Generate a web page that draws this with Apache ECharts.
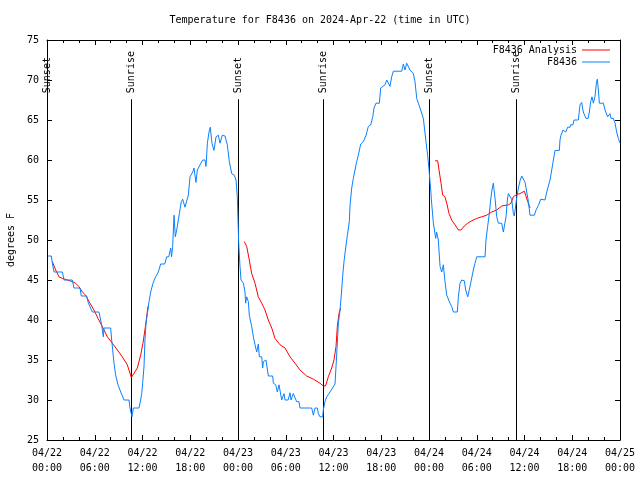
<!DOCTYPE html>
<html>
<head>
<meta charset="utf-8">
<script src="https://cdn.jsdelivr.net/npm/echarts@6/dist/echarts.min.js"></script>
<style>html,body{margin:0;padding:0;background:#fff;}#c{width:640px;height:480px;}</style>
</head>
<body>
<div id="c"></div>
<script>
// hours since 2024-04-22 00:00 UTC, temperature (deg F)
const observed = [
[0.13,48.0],[0.54,48.0],[0.67,47.1],[0.88,46.0],[1.93,46.0],[2.14,45.0],[3.18,45.0],[3.39,44.0],[4.15,44.0],[4.31,43.0],
[4.98,43.0],[5.2,42.1],[5.7,41.0],[6.53,41.0],[6.83,39.6],[7.08,37.9],[7.16,39.0],[8.0,39.0],[8.13,37.5],[8.42,34.6],
[8.63,33.1],[8.92,31.9],[9.26,31.0],[9.68,30.0],[10.3,30.0],[10.43,29.0],[10.68,27.9],[10.85,29.0],[11.56,29.0],[11.77,30.0],
[11.9,30.8],[12.02,32.1],[12.19,34.2],[12.31,37.5],[12.44,39.6],[12.61,40.8],[12.82,42.3],[13.03,43.5],[13.32,44.6],[13.65,45.4],
[13.99,46.0],[14.28,47.0],[14.79,47.0],[15.04,47.9],[15.3,47.9],[15.54,49.0],[15.65,47.9],[15.79,49.2],[15.96,53.1],[16.12,50.4],
[16.3,51.25],[16.63,53.3],[16.88,54.8],[17.05,55.1],[17.34,54.1],[17.55,54.1],[17.76,55.6],[17.97,57.9],[18.31,58.5],[18.47,59.0],
[18.72,57.2],[18.89,58.75],[19.23,59.4],[19.56,60.0],[19.85,60.0],[19.98,59.2],[20.15,62.1],[20.36,63.5],[20.52,64.1],[20.73,62.1],
[20.98,61.2],[21.24,62.9],[21.53,63.1],[21.74,62.1],[22.03,63.1],[22.37,63.0],[22.66,61.9],[22.91,59.8],[23.21,58.3],[23.54,58.1],
[23.75,57.5],[23.91,55.4],[24.0,52.5],[24.09,49.6],[24.25,46.7],[24.38,45.0],[24.68,44.6],[24.88,43.5],[24.96,42.1],[25.09,42.9],
[25.3,42.3],[25.42,40.6],[25.72,39.2],[25.93,37.9],[26.14,36.9],[26.35,36.0],[26.56,37.0],[26.68,35.4],[26.98,35.4],[27.1,34.0],
[27.19,34.8],[27.52,35.0],[27.81,33.0],[28.36,33.0],[28.44,32.1],[28.74,31.9],[28.94,31.0],[29.15,31.9],[29.28,31.7],[29.49,30.0],
[29.78,30.8],[29.91,30.0],[30.3,30.0],[30.54,30.9],[30.66,30.0],[30.95,30.8],[31.16,30.8],[31.37,29.8],[31.66,29.8],[31.79,29.0],
[33.26,29.0],[33.47,28.1],[33.68,29.0],[33.97,29.0],[34.1,28.3],[34.3,27.9],[34.64,27.9],[34.72,28.75],[34.93,29.8],[35.15,30.4],
[35.56,31.0],[36.19,32.0],[36.32,34.2],[36.48,37.1],[36.61,39.6],[36.82,41.25],[37.03,43.75],[37.16,45.6],[37.32,47.3],[37.53,49.0],
[37.74,50.6],[37.99,52.3],[38.08,54.4],[38.29,56.5],[38.49,57.7],[38.7,58.75],[38.91,59.8],[39.12,60.6],[39.42,62.0],[39.75,62.3],
[40.09,63.1],[40.38,64.2],[40.68,64.4],[40.93,65.4],[41.09,66.5],[41.34,67.1],[41.76,67.1],[41.93,69.0],[42.18,69.0],[42.47,69.4],
[42.69,70.0],[42.94,70.0],[43.1,69.2],[43.31,70.4],[43.52,71.1],[44.57,71.1],[44.78,72.0],[44.99,71.25],[45.2,72.1],[45.4,72.1],
[45.61,71.25],[46.03,70.8],[46.24,69.8],[46.46,67.7],[46.66,67.1],[46.87,66.5],[47.29,65.2],[47.5,65.1],[47.62,62.3],[47.83,60.6],
[48.0,58.8],[48.25,55.8],[48.3,55.0],[48.54,52.2],[48.84,50.2],[48.96,51.0],[49.17,50.0],[49.39,46.7],[49.6,46.0],[49.8,46.9],
[50.01,44.8],[50.23,43.1],[50.44,42.9],[50.64,42.1],[50.85,41.7],[51.06,41.0],[51.56,41.0],[51.69,42.9],[51.9,44.6],[52.11,45.0],
[52.44,44.9],[52.61,43.75],[52.87,42.9],[53.08,42.9],[53.24,44.6],[53.57,46.25],[53.78,47.1],[54.0,47.9],[55.04,47.9],[55.16,50.0],
[55.37,51.7],[55.58,53.3],[55.75,55.0],[55.91,56.25],[56.08,57.1],[56.3,55.2],[56.51,52.9],[56.71,52.1],[56.9,52.3],[57.13,52.1],
[57.34,51.0],[57.55,51.0],[57.68,52.9],[57.85,55.0],[57.97,55.8],[58.18,56.0],[58.39,55.1],[58.59,53.4],[58.72,53.0],[58.89,53.0],
[59.02,55.3],[59.23,56.5],[59.44,57.4],[59.65,58.0],[59.86,58.0],[60.07,57.2],[60.28,56.0],[60.49,54.8],[60.69,53.1],[61.24,53.1],
[61.45,53.75],[61.74,54.3],[62.04,55.1],[62.58,55.0],[62.79,56.0],[63.0,56.0],[63.21,57.5],[63.42,58.75],[63.63,60.0],[63.84,61.2],
[64.38,61.2],[64.46,62.5],[64.59,63.1],[64.84,63.75],[65.05,64.0],[65.18,63.5],[65.43,64.1],[65.72,64.1],[65.81,64.4],[66.09,64.4],
[66.22,65.0],[66.76,65.0],[66.98,66.9],[67.18,67.2],[67.39,66.0],[67.72,65.2],[68.0,65.2],[68.15,66.0],[68.32,67.3],[68.48,67.9],
[68.65,67.1],[68.86,67.9],[69.03,69.6],[69.15,70.1],[69.28,68.75],[69.41,67.1],[69.91,67.1],[70.12,66.25],[70.33,66.1],[70.45,65.4],
[70.62,65.4],[70.74,65.8],[70.87,65.2],[71.16,65.2],[71.38,64.6],[71.58,63.5],[71.79,62.7],[72.0,62.1]
];
const analysisNight1 = [
[0.67,47.3],[1.09,46.25],[1.5,45.4],[1.93,45.2],[2.55,45.0],[3.18,44.8],[3.6,44.6],[4.0,44.2],[4.44,43.5],[4.86,43.1],
[5.28,42.3],[5.9,41.25],[6.41,40.2],[6.95,39.2],[7.58,37.9],[8.21,37.1],[8.84,36.25],[9.46,35.4],[10.09,34.4],[10.6,32.8],
[10.85,32.8],[11.35,34.0],[11.77,35.6],[12.06,37.1],[12.4,39.4],[12.69,41.7]
];
const analysisNight2 = [
[24.79,49.8],[25.09,49.2],[25.42,47.5],[25.72,45.8],[26.14,44.6],[26.55,42.9],[26.98,42.1],[27.39,41.25],[27.81,40.0],[28.24,39.0],
[28.65,37.7],[29.28,36.9],[29.91,36.5],[30.54,35.4],[31.16,34.6],[31.79,33.75],[32.63,33.0],[33.47,32.6],[34.3,32.1],[34.72,31.75],
[35.0,31.75],[35.35,32.9],[35.77,34.0],[36.06,35.0],[36.32,36.7],[36.48,39.2],[36.69,40.8],[36.9,41.5]
];
const analysisNight3 = [
[48.76,59.9],[49.09,59.9],[49.26,58.75],[49.51,57.1],[49.72,55.6],[50.0,55.4],[50.23,54.6],[50.52,53.3],[50.85,52.5],[51.27,51.9],
[51.69,51.25],[52.02,51.25],[52.44,51.75],[52.87,52.1],[53.37,52.4],[54.0,52.7],[54.62,52.9],[55.25,53.1],[55.88,53.5],[56.51,53.75],
[57.14,54.25],[57.97,54.4],[58.31,54.6],[58.59,55.4],[59.02,55.7],[59.44,55.8],[59.98,56.1],[60.15,55.6],[60.4,54.8],[60.69,54.0]
];
const sunTimes = [0.04, 10.6, 24.04, 34.72, 48.04, 58.9];
const sunLabels = ['Sunset','Sunrise','Sunset','Sunrise','Sunset','Sunrise'];
const yTicks = {min:25, max:75, step:5};
const xTicks = {min:0, max:72, step:6};

const FONT = '"DejaVu Sans Mono", "Liberation Mono", monospace';
const analysis = analysisNight1.concat([[null,null]], analysisNight2, [[null,null]], analysisNight3);
const lineTopValue = 67.6;

function fmtX(v){
  const d = 22 + Math.floor(v/24);
  const h = v % 24;
  return '04/' + d + '\n' + (h<10?'0':'') + h + ':00';
}

const axisCommon = {
  axisLine:{show:true, onZero:false, lineStyle:{color:'#000', width:1}},
  axisTick:{show:true, inside:true, length:5, lineStyle:{color:'#000'}},
  splitLine:{show:false}
};

const chart = echarts.init(document.getElementById('c'), null, {renderer:'canvas'});
chart.setOption({
  animation:false,
  backgroundColor:'#fff',
  title:{text:'Temperature for F8436 on 2024-Apr-22 (time in UTC)', left:'center', top:10,
    textStyle:{fontFamily:FONT, fontSize:10, fontWeight:'normal', color:'#000'}},
  grid:{left:47, right:20, top:40, bottom:40, containLabel:false, outerBoundsMode:'none'},
  legend:[
    {data:['F8436 Analysis'], right:30, top:45, align:'right', orient:'vertical', itemWidth:28, itemHeight:1, itemGap:2, icon:'rect', padding:0,
      textStyle:{fontFamily:FONT, fontSize:10, color:'#000'}},
    {data:['F8436'], right:30, top:57, align:'right', orient:'vertical', itemWidth:28, itemHeight:1, itemGap:2, icon:'rect', padding:0,
      textStyle:{fontFamily:FONT, fontSize:10, color:'#000'}}
  ],
  xAxis:[
    Object.assign({type:'value', position:'bottom', min:xTicks.min, max:xTicks.max, interval:xTicks.step,
      minorTick:{show:true, splitNumber:3, length:3, lineStyle:{color:'#000'}},
      axisLabel:{formatter:fmtX, fontFamily:FONT, fontSize:10, color:'#000', lineHeight:15, margin:6}}, axisCommon),
    Object.assign({type:'value', position:'top', min:xTicks.min, max:xTicks.max, interval:xTicks.step,
      minorTick:{show:true, splitNumber:3, length:3, lineStyle:{color:'#000'}},
      axisLabel:{show:false}}, axisCommon)
  ],
  yAxis:[
    Object.assign({type:'value', position:'left', min:yTicks.min, max:yTicks.max, interval:yTicks.step,
      name:'degrees F', nameLocation:'middle', nameRotate:90, nameGap:30,
      nameTextStyle:{fontFamily:FONT, fontSize:10, color:'#000'},
      axisLabel:{fontFamily:FONT, fontSize:10, color:'#000', margin:8}}, axisCommon),
    Object.assign({type:'value', position:'right', min:yTicks.min, max:yTicks.max, interval:yTicks.step,
      axisLabel:{show:false}}, axisCommon)
  ],
  series:[
    {type:'custom', name:'sun', z:1, silent:true, clip:false,
      data: sunTimes.map(function(t){return [t];}),
      encode:{x:0},
      renderItem:function(params, api){
        const x = api.value(0);
        const p0 = api.coord([x, yTicks.min]);
        const p1 = api.coord([x, lineTopValue]);
        return {type:'group', children:[
          {type:'line', shape:{x1:Math.round(p0[0])+0.5, y1:p0[1], x2:Math.round(p1[0])+0.5, y2:p1[1]},
            style:{stroke:'#000', lineWidth:1}},
          {type:'text', x:Math.round(p1[0])+0.5, y:p1[1]-6, rotation:Math.PI/2,
            style:{text:sunLabels[params.dataIndex], fill:'#000', font:'10px ' + FONT, align:'left', verticalAlign:'middle'}}
        ]};
      }
    },
    {type:'line', name:'F8436 Analysis', z:2, data:analysis, showSymbol:false, symbol:'none', connectNulls:false,
      lineStyle:{color:'#ff0000', width:1}, itemStyle:{color:'#ff0000'}},
    {type:'line', name:'F8436', z:3, data:observed, showSymbol:false, symbol:'none',
      lineStyle:{color:'#0a80ff', width:1}, itemStyle:{color:'#0a80ff'}}
  ]
});
</script>
</body>
</html>
